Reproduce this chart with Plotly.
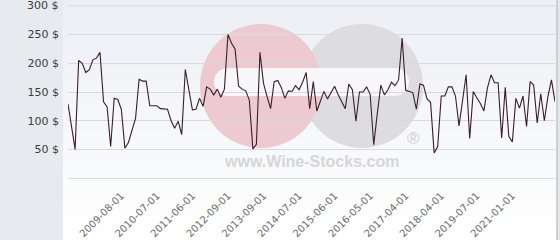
import plotly.graph_objects as go

prices = [129, 88, 50, 205, 200, 184, 189, 206, 209, 219,
          133, 124, 55, 139, 137, 120, 52, 62, 81, 104,
          172, 169, 169, 126, 126, 126, 121, 121, 120, 100,
          87, 99, 76, 189, 155, 119, 120, 139, 125, 159,
          155, 145, 155, 141, 155, 250, 235, 225, 160, 155,
          152, 136, 51, 59, 219, 165, 142, 121, 168, 170,
          158, 139, 152, 151, 161, 154, 167, 184, 121, 168,
          117, 136, 151, 138, 148, 160, 145, 133, 121, 164,
          154, 99, 150, 150, 159, 146, 58, 112, 162, 145,
          154, 167, 161, 171, 244, 153, 151, 149, 120, 164,
          162, 138, 132, 44, 55, 143, 143, 159, 159, 143,
          91, 135, 180, 69, 151, 140, 130, 117, 157, 180,
          166, 166, 70, 158, 73, 63, 139, 122, 143, 90,
          168, 162, 96, 147, 100, 142, 171, 133]

tick_labels = ["2009-08-01", "2010-07-01", "2011-06-01", "2012-09-01",
               "2013-09-01", "2014-07-01", "2015-06-01", "2016-05-01",
               "2017-04-01", "2018-04-01", "2019-07-01", "2021-01-01"]

y_ticks = [0, 50, 100, 150, 200, 250, 300]
y_tick_text = ["", "50 $", "100 $", "150 $", "200 $", "250 $", "300 $"]

W, H = 560, 240
UNIT = 172 / 300.0
PAD_LO = 5.0
PAD_HI = 5.0
ML, MR = 68, 5
MT = 6 - PAD_HI * UNIT
MB = 62 - PAD_LO * UNIT
PW, PH = W - ML - MR, H - MT - MB
GRID = "#d9d9d9"
YFONT = dict(family="DejaVu Sans", size=11, color="#3c3c3c")

def px(x):
    return (x - ML) / PW

def py(y):
    return (H - MB - y) / PH

n = len(prices)
xs = list(range(n))
tick_pos = [15 + 10 * k for k in range(len(tick_labels))]

fig = go.Figure()
fig.add_trace(go.Scatter(x=xs, y=prices, mode="lines",
                         line=dict(color="#3a1d2b", width=1.1),
                         hoverinfo="skip", showlegend=False, cliponaxis=False))

shapes = []
shapes.append(dict(type="rect", xref="paper", yref="paper", layer="below",
                   x0=px(0), x1=px(63), y0=py(H), y1=py(0),
                   fillcolor="#e7eaee", line=dict(width=0)))
nb = 24
top = (236, 239, 245)
bot = (255, 255, 255)
for i in range(nb):
    t = i / (nb - 1)
    c = tuple(int(round(top[j] + (bot[j] - top[j]) * t)) for j in range(3))
    shapes.append(dict(type="rect", xref="paper", yref="paper", layer="below",
                       x0=px(63), x1=px(557), y0=py(H * (i + 1) / nb + 0.5),
                       y1=py(H * i / nb), fillcolor="rgb(%d,%d,%d)" % c,
                       line=dict(width=0)))
shapes.append(dict(type="rect", xref="paper", yref="paper", layer="below",
                   x0=px(557), x1=px(W), y0=py(H), y1=py(0),
                   fillcolor="#e4e7eb", line=dict(width=0)))
shapes.append(dict(type="line", xref="paper", yref="paper", layer="below",
                   x0=px(557), x1=px(557), y0=py(H), y1=py(0),
                   line=dict(color="#c4c4c4", width=1.5)))
shapes.append(dict(type="circle", xref="paper", yref="paper", layer="below",
                   x0=px(301), x1=px(423), y0=py(148), y1=py(24),
                   fillcolor="#dddddf", line=dict(width=0)))
shapes.append(dict(type="circle", xref="paper", yref="paper", layer="below",
                   x0=px(200), x1=px(322), y0=py(148), y1=py(24),
                   fillcolor="#edcad1", line=dict(width=0)))
shapes.append(dict(type="rect", xref="paper", yref="paper", layer="below",
                   x0=px(228), x1=px(395), y0=py(96), y1=py(68),
                   fillcolor="#f7f7fa", line=dict(width=0)))
shapes.append(dict(type="circle", xref="paper", yref="paper", layer="below",
                   x0=px(214), x1=px(242), y0=py(96), y1=py(68),
                   fillcolor="#f7f7fa", line=dict(width=0)))
shapes.append(dict(type="circle", xref="paper", yref="paper", layer="below",
                   x0=px(381), x1=px(409), y0=py(96), y1=py(68),
                   fillcolor="#f7f7fa", line=dict(width=0)))
# top gridline (plotly drops the edge tick here)
shapes.append(dict(type="line", xref="paper", yref="y", layer="between",
                   x0=0, x1=1, y0=y_ticks[-1], y1=y_ticks[-1],
                   line=dict(color=GRID, width=1)))

annotations = [
    dict(text="<b>www.Wine-Stocks.com</b>", xref="paper", yref="paper",
         x=px(311), y=py(161), showarrow=False, xanchor="center", yanchor="middle",
         font=dict(family="Liberation Sans", size=16, color="#d6d6d8")),
    dict(text="®", xref="paper", yref="paper", x=px(413), y=py(138),
         showarrow=False, xanchor="center", yanchor="middle",
         font=dict(family="Liberation Sans", size=17, color="#cfcfd2")),
    dict(text=y_tick_text[-1], xref="paper", yref="y", x=px(61), y=y_ticks[-1],
         showarrow=False, xanchor="right", yanchor="middle", font=YFONT),
]

fig.update_layout(
    width=W, height=H,
    margin=dict(l=ML, r=MR, t=MT, b=MB, pad=0, autoexpand=False),
    paper_bgcolor="#ffffff",
    plot_bgcolor="rgba(0,0,0,0)",
    shapes=shapes,
    annotations=annotations,
    xaxis=dict(range=[0, n - 1], tickmode="array", tickvals=tick_pos,
               ticktext=tick_labels, tickangle=-45, showgrid=False,
               zeroline=False, showline=False, ticks="",
               ticklabelstandoff=6, automargin=False,
               tickfont=dict(family="DejaVu Sans", size=10, color="#6a6a6a")),
    yaxis=dict(range=[-PAD_LO, 300 + PAD_HI], tickmode="array", tickvals=y_ticks[:-1],
               ticktext=y_tick_text[:-1], showgrid=True, gridcolor=GRID,
               gridwidth=1, zeroline=False, showline=False, ticks="",
               ticklabelstandoff=8, automargin=False,
               tickfont=YFONT),
)

fig.write_html("out.html")
